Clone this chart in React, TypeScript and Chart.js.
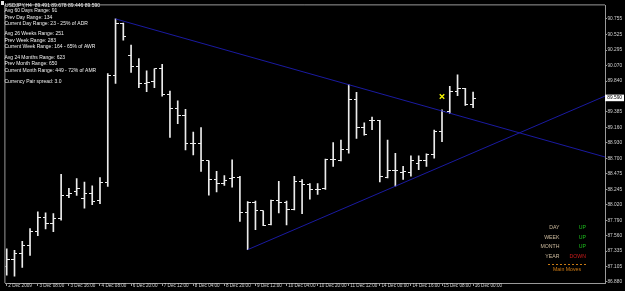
import React, { useEffect, useRef } from 'react';
import { Chart, registerables } from 'chart.js';

Chart.register(...registerables);

// ---------- data ----------
const symbolTitle = 'USDJPY,H4';
const timeLabels = [
  '2 Dec 2009', '3 Dec 08:00', '3 Dec 16:00', '4 Dec 08:00', '6 Dec 20:00', '7 Dec 12:00',
  '8 Dec 04:00', '8 Dec 20:00', '9 Dec 12:00', '10 Dec 04:00', '10 Dec 20:00', '11 Dec 12:00',
  '14 Dec 00:00', '14 Dec 16:00', '15 Dec 08:00', '16 Dec 00:00',
];
const barsPerLabel = 4;

const opens = [
  87.113, 87.210, 87.306, 87.423, 87.622, 87.836, 87.743, 87.816, 88.156, 88.208,
  88.117, 88.185, 88.078, 88.345, 89.926, 90.682, 90.217, 90.048, 89.800, 89.830,
  90.019, 89.645, 89.431, 89.329, 88.927, 88.927, 88.665, 88.389, 88.331, 88.403,
  88.412, 87.899, 88.048, 87.928, 87.720, 88.073, 88.048, 87.942, 88.364, 88.316,
  88.238, 88.258, 88.689, 88.674, 88.825, 89.562, 89.154, 89.262, 89.262, 88.412,
  88.520, 88.495, 88.495, 88.622, 88.670, 88.753, 89.092, 89.393, 89.684, 89.732,
  89.491,
];
const highs = [
  87.370, 87.346, 87.477, 87.666, 87.913, 87.899, 87.888, 88.466, 88.258, 88.403,
  88.350, 88.296, 88.418, 89.950, 90.755, 90.693, 90.368, 90.169, 89.990, 90.019,
  90.086, 89.693, 89.547, 89.422, 89.087, 89.154, 88.665, 88.510, 88.447, 88.680,
  88.437, 88.063, 88.073, 87.928, 88.088, 88.364, 88.073, 88.437, 88.389, 88.331,
  88.331, 88.689, 88.932, 88.971, 89.786, 89.674, 89.223, 89.310, 89.262, 88.971,
  88.776, 88.582, 88.738, 88.738, 88.767, 89.117, 89.416, 89.761, 89.931, 89.732,
  89.678,
];
const lows = [
  86.982, 86.967, 87.094, 87.273, 87.564, 87.661, 87.622, 87.792, 88.121, 88.156,
  87.967, 88.019, 88.034, 88.287, 89.805, 90.441, 89.965, 89.742, 89.684, 89.742,
  89.616, 89.009, 89.213, 88.825, 88.753, 88.510, 88.160, 88.208, 88.302, 88.277,
  87.772, 87.356, 87.651, 87.709, 87.720, 87.899, 87.720, 87.942, 87.888, 88.098,
  88.171, 88.243, 88.582, 88.665, 88.776, 88.994, 89.044, 89.125, 88.354, 88.412,
  88.291, 88.389, 88.437, 88.534, 88.582, 88.703, 88.946, 89.358, 89.626, 89.480,
  89.446,
];
const closes = [
  87.210, 87.306, 87.423, 87.622, 87.836, 87.743, 87.816, 88.156, 88.185, 88.258,
  88.185, 88.069, 88.339, 89.926, 90.682, 90.489, 90.048, 89.800, 89.815, 90.019,
  89.645, 89.431, 89.329, 88.927, 88.927, 88.665, 88.389, 88.331, 88.374, 88.412,
  87.899, 88.048, 87.928, 87.709, 88.073, 88.048, 87.942, 88.364, 88.316, 88.238,
  88.238, 88.680, 88.689, 88.825, 89.562, 89.154, 89.058, 89.262, 88.427, 88.520,
  88.520, 88.510, 88.670, 88.670, 88.753, 89.092, 89.393, 89.684, 89.732, 89.489,
  89.590,
];

const priceTicks = [
  90.755, 90.525, 90.295, 90.070, 89.840, 89.385, 89.160, 88.930, 88.700,
  88.475, 88.245, 88.020, 87.790, 87.560, 87.335, 87.105, 86.880,
];

// trend lines: bar indices whose high (upper) / low (lower) they pass through
const upperTrendBars = [14, 44];
const lowerTrendBars = [31, 50];

// yellow cross marker
const markerBar = 56;
const markerPrice = 89.611;

const infoLines = [
  'Avg 60 Days Range: 91',
  'Prev Day Range: 134',
  'Current Day Range: 23 - 25% of ADR',
  'Avg 26 Weeks Range: 251',
  'Prev Week Range: 283',
  'Current Week Range: 164 - 65% of AWR',
  'Avg 24 Months Range: 623',
  'Prev Month Range: 650',
  'Current Month Range: 449 - 72% of AMR',
  'Currency Pair spread: 3.0',
];
const moveNames = ['DAY', 'WEEK', 'MONTH', 'YEAR'];
const moveStates = ['UP', 'UP', 'UP', 'DOWN'];
const movesTitle = 'Main Moves';

// axis ranges
const xMin = -0.17;
const xMax = 76.97;
const yMin = 86.865;
const yMax = 90.954;

// ---------- styles ----------
const FONT = '"Liberation Sans", Arial, sans-serif';
const axisColor = '#9a9a9a';
const axisText = '#d2d2d2';
const barColor = '#ececec';
const trendColor = '#1a1aa0';

function tickImage(side: 'left' | 'right') {
  const c = document.createElement('canvas');
  c.width = 6;
  c.height = 1;
  const g = c.getContext('2d')!;
  g.fillStyle = barColor;
  g.fillRect(side === 'left' ? 0 : 3, 0, 3, 1);
  return c;
}

function lineThrough(i1: number, v1: number, i2: number, v2: number, xEnd: number) {
  const slope = (v2 - v1) / (i2 - i1);
  return [
    { x: i1, y: v1 },
    { x: i2, y: v2 },
    { x: xEnd, y: v1 + slope * (xEnd - i1) },
  ];
}

const infoY = [11, 17.3, 23.6, 34, 40.2, 46.5, 57.6, 63.9, 70.2, 82];
const movesY = [227.3, 237.2, 247, 256.8];

const overlayPlugin = {
  id: 'mtOverlay',
  beforeDraw(chart: any) {
    const { ctx, width, height } = chart;
    ctx.save();
    ctx.fillStyle = '#000000';
    ctx.fillRect(0, 0, width, height);
    ctx.restore();
  },
  afterDraw(chart: any) {
    const { ctx, chartArea, scales } = chart;
    ctx.save();
    // left/top frame
    ctx.strokeStyle = axisColor;
    ctx.lineWidth = 1;
    ctx.beginPath();
    ctx.moveTo(chartArea.left - 0.5, chartArea.bottom);
    ctx.lineTo(chartArea.left - 0.5, chartArea.top - 0.5);
    ctx.lineTo(chartArea.right, chartArea.top - 0.5);
    ctx.stroke();

    // header
    ctx.fillStyle = '#e8e8e8';
    ctx.fillRect(1, 1, 3, 4);
    const last = closes.length - 1;
    ctx.font = `5px ${FONT}`;
    ctx.textBaseline = 'middle';
    ctx.textAlign = 'left';
    ctx.fillStyle = '#f0f0f0';
    ctx.fillText(
      `${symbolTitle}  ${opens[last].toFixed(3)} ${highs[last].toFixed(3)} ${lows[last].toFixed(3)} ${closes[last].toFixed(3)}`,
      5, 5.3
    );
    infoLines.forEach((t, k) => ctx.fillText(t, 4.5, infoY[k]));

    // main moves panel
    ctx.font = `5.2px ${FONT}`;
    moveNames.forEach((n, k) => {
      ctx.textAlign = 'right';
      ctx.fillStyle = '#cdbb9e';
      ctx.fillText(n, 559.5, movesY[k]);
      ctx.fillStyle = moveStates[k] === 'UP' ? '#1ec21e' : '#d01c1c';
      ctx.fillText(moveStates[k], 586, movesY[k]);
    });
    ctx.strokeStyle = '#c87a14';
    ctx.setLineDash([2, 2]);
    ctx.beginPath();
    ctx.moveTo(548, 264.5);
    ctx.lineTo(588, 264.5);
    ctx.stroke();
    ctx.setLineDash([]);
    ctx.textAlign = 'center';
    ctx.fillStyle = '#d07c14';
    ctx.fillText(movesTitle, 567, 269.6);

    // current price label on axis
    const py = scales.y.getPixelForValue(closes[last]);
    ctx.fillStyle = '#ffffff';
    ctx.fillRect(chartArea.right, py - 3.4, 19, 6.6);
    ctx.fillStyle = '#000000';
    ctx.textAlign = 'left';
    ctx.font = `4.8px ${FONT}`;
    ctx.fillText(closes[last].toFixed(3), chartArea.right + 2.3, py);
    ctx.restore();
  },
};

export default function App() {
  const ref = useRef<HTMLCanvasElement | null>(null);

  useEffect(() => {
    document.body.style.margin = '0';
    document.body.style.background = '#000';
    const canvas = ref.current!;
    const openImg = tickImage('left');
    const closeImg = tickImage('right');

    const upper = lineThrough(
      upperTrendBars[0], highs[upperTrendBars[0]],
      upperTrendBars[1], highs[upperTrendBars[1]], xMax + 1
    );
    const lower = lineThrough(
      lowerTrendBars[0], lows[lowerTrendBars[0]],
      lowerTrendBars[1], lows[lowerTrendBars[1]], xMax + 1
    );

    const chart = new Chart(canvas, {
      type: 'bar',
      data: {
        datasets: [
          {
            type: 'scatter',
            data: [{ x: markerBar, y: markerPrice }],
            pointStyle: 'crossRot',
            pointRadius: 3.2,
            borderColor: '#f2f200',
            backgroundColor: '#f2f200',
            borderWidth: 1.4,
          } as any,
          {
            type: 'line',
            data: upper,
            borderColor: trendColor,
            borderWidth: 1,
            pointRadius: 0,
            tension: 0,
            fill: false,
          } as any,
          {
            type: 'line',
            data: lower,
            borderColor: trendColor,
            borderWidth: 1,
            pointRadius: 0,
            tension: 0,
            fill: false,
          } as any,
          {
            type: 'scatter',
            data: opens.map((v, i) => ({ x: i, y: v })),
            pointStyle: openImg,
            pointRadius: 1,
          } as any,
          {
            type: 'scatter',
            data: closes.map((v, i) => ({ x: i, y: v })),
            pointStyle: closeImg,
            pointRadius: 1,
          } as any,
          {
            type: 'bar',
            data: highs.map((h, i) => ({ x: i, y: [lows[i], h] })),
            backgroundColor: barColor,
            borderWidth: 0,
            barThickness: 1,
          } as any,
        ],
      },
      options: {
        animation: false,
        responsive: false,
        devicePixelRatio: 1,
        events: [],
        layout: { padding: { left: 1, top: 2, right: 0, bottom: 0 } },
        plugins: {
          legend: { display: false },
          tooltip: { enabled: false },
          title: { display: false },
        },
        scales: {
          x: {
            type: 'linear',
            position: 'bottom',
            min: xMin,
            max: xMax,
            offset: false,
            grid: {
              display: true,
              drawOnChartArea: false,
              drawTicks: true,
              tickLength: 3,
              color: axisColor,
              offset: false,
            },
            border: { display: true, color: axisColor },
            ticks: {
              autoSkip: false,
              maxRotation: 0,
              minRotation: 0,
              align: 'start',
              labelOffset: 1.6,
              padding: -3.1,
              color: axisText,
              font: { family: FONT, size: 4.6 },
              callback: (_v: any, idx: number) => timeLabels[idx],
            },
            afterBuildTicks: (s: any) => {
              s.ticks = timeLabels.map((_, k) => ({ value: k * barsPerLabel }));
            },
            afterFit: (s: any) => {
              s.height = 8;
              s.paddingLeft = 0;
              s.paddingRight = 0;
            },
          } as any,
          y: {
            type: 'linear',
            position: 'right',
            min: yMin,
            max: yMax,
            grid: {
              display: true,
              drawOnChartArea: false,
              drawTicks: true,
              tickLength: 2,
              color: axisColor,
            },
            border: { display: true, color: axisColor },
            ticks: {
              autoSkip: false,
              padding: 0.4,
              color: axisText,
              font: { family: FONT, size: 4.8 },
              callback: (v: any) => Number(v).toFixed(3),
            },
            afterBuildTicks: (s: any) => {
              s.ticks = priceTicks.map((v) => ({ value: v }));
            },
            afterFit: (s: any) => {
              s.width = 20;
              s.paddingTop = 0;
              s.paddingBottom = 0;
            },
          } as any,
        },
      },
      plugins: [overlayPlugin],
    });

    return () => chart.destroy();
  }, []);

  return (
    <div style={{ position: 'fixed', left: 0, top: 0, width: 625, height: 291, background: '#000' }}>
      <canvas ref={ref} width={625} height={291} style={{ display: 'block', width: 625, height: 291 }} />
    </div>
  );
}
